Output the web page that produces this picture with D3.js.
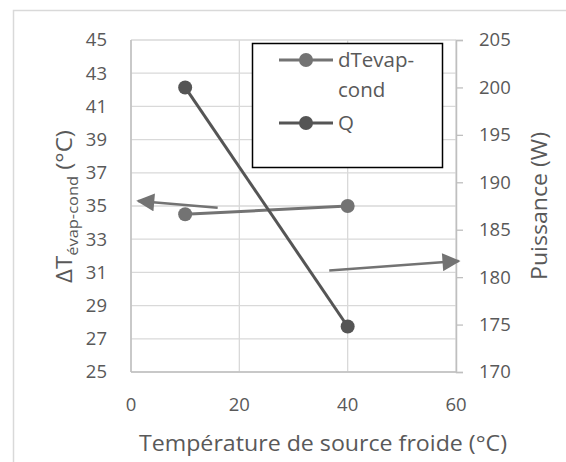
<!DOCTYPE html>
<html><head><meta charset="utf-8">
<script src="https://cdn.jsdelivr.net/npm/d3@7"></script>
<style>body{margin:0;background:#fff}svg{display:block}text{font-family:"Open Sans",sans-serif;fill:#595959}</style>
</head><body><svg id="c" width="566" height="462"></svg>
<script>
const xTicks=[0,20,40,60];
const leftTicks=[25,27,29,31,33,35,37,39,41,43,45];
const rightTicks=[170,175,180,185,190,195,200,205];
const tempX=[10,40];
const dTevap=[34.5,35];
const Q=[200,174.8];
const seriesNames=["dTevap-cond","Q"];
const colors=["#737373","#555555"];

const svg=d3.select("#c");
const L=131,R=456,T=40,B=372;
const x=d3.scaleLinear().domain([0,60]).range([L,R]);
const yL=d3.scaleLinear().domain([25,45]).range([B,T]);
const yR=d3.scaleLinear().domain([170,205]).range([B,T]);
const tickFs=18.5;

// outer border
svg.append("path").attr("d","M13.5,462V10.5H566").attr("fill","none").attr("stroke","#d9d9d9").attr("stroke-width",1.5);

// gridlines
svg.append("g").selectAll("line").data(leftTicks).join("line")
 .attr("x1",L).attr("x2",R).attr("y1",d=>yL(d)).attr("y2",d=>yL(d))
 .attr("stroke","#d9d9d9").attr("stroke-width",1.3);
svg.append("g").selectAll("line").data(xTicks).join("line")
 .attr("x1",d=>x(d)).attr("x2",d=>x(d)).attr("y1",T).attr("y2",B)
 .attr("stroke","#d9d9d9").attr("stroke-width",1.3);

// axes lines
const axCol="#bfbfbf";
svg.append("line").attr("x1",L).attr("x2",R).attr("y1",B).attr("y2",B).attr("stroke",axCol).attr("stroke-width",1.5);
svg.append("line").attr("x1",L).attr("x2",L).attr("y1",T).attr("y2",B).attr("stroke",axCol).attr("stroke-width",1.5);
// right axis
const gR=svg.append("g").attr("transform",`translate(${R},0)`)
 .call(d3.axisRight(yR).tickValues(rightTicks).tickSize(7).tickPadding(16));
gR.select(".domain").attr("stroke",axCol).attr("stroke-width",1.5);
gR.selectAll(".tick line").attr("stroke",axCol).attr("stroke-width",1.3);
gR.selectAll("text").attr("font-size",tickFs).attr("fill","#595959").attr("font-family","Open Sans");

// left tick labels
svg.append("g").selectAll("text").data(leftTicks).join("text")
 .attr("x",107).attr("y",d=>yL(d)).attr("dy","0.35em").attr("text-anchor","end")
 .attr("font-size",tickFs).text(d=>d);
// x tick labels
svg.append("g").selectAll("text").data(xTicks).join("text")
 .attr("x",d=>x(d)).attr("y",405).attr("dy","0.35em").attr("text-anchor","middle")
 .attr("font-size",tickFs).text(d=>d);

// axis titles
svg.append("text").attr("x",323).attr("y",451).attr("text-anchor","middle").attr("font-size",21.5)
 .attr("textLength",368).attr("lengthAdjust","spacingAndGlyphs").text("Température de source froide (°C)");
const lt=svg.append("text").attr("transform","translate(72,206.5) rotate(-90)").attr("text-anchor","middle").attr("font-size",22)
 .attr("textLength",153).attr("lengthAdjust","spacingAndGlyphs");
lt.append("tspan").text("ΔT");
lt.append("tspan").attr("font-size",15).attr("dy",6).text("évap-cond");
lt.append("tspan").attr("dy",-6).text(" (°C)");
svg.append("text").attr("transform","translate(547,206) rotate(-90)").attr("text-anchor","middle").attr("font-size",21.5)
 .attr("textLength",148).attr("lengthAdjust","spacingAndGlyphs").text("Puissance (W)");

// series
const line1=d3.line().x((d,i)=>x(tempX[i])).y(d=>yL(d));
const line2=d3.line().x((d,i)=>x(tempX[i])).y(d=>yR(d));
svg.append("path").attr("d",line1(dTevap)).attr("fill","none").attr("stroke",colors[0]).attr("stroke-width",3);
svg.append("g").selectAll("circle").data(dTevap).join("circle").attr("cx",(d,i)=>x(tempX[i])).attr("cy",d=>yL(d)).attr("r",7).attr("fill",colors[0]);
svg.append("path").attr("d",line2(Q)).attr("fill","none").attr("stroke",colors[1]).attr("stroke-width",3);
svg.append("g").selectAll("circle").data(Q).join("circle").attr("cx",(d,i)=>x(tempX[i])).attr("cy",d=>yR(d)).attr("r",7).attr("fill",colors[1]);

// annotation arrows
const defs=svg.append("defs");
defs.append("marker").attr("id","ah").attr("viewBox","0 0 10 10").attr("refX",9).attr("refY",5)
 .attr("markerWidth",22).attr("markerHeight",18).attr("markerUnits","userSpaceOnUse")
 .attr("orient","auto").append("path").attr("d","M0,0L10,5L0,10Z").attr("fill","#737373");
function arrow(x1,y1,x2,y2){
 svg.append("line").attr("x1",x1).attr("y1",y1).attr("x2",x2).attr("y2",y2)
  .attr("stroke","#737373").attr("stroke-width",2.5).attr("marker-end","url(#ah)");
}
arrow(x(16),yL(34.9),x(1.3),yL(35.3));
arrow(x(36.6),yR(180.7),x(60.5),yR(181.7));

// legend
const lg=svg.append("g");
lg.append("rect").attr("x",252.5).attr("y",43.5).attr("width",190).attr("height",124).attr("fill","#fff").attr("stroke","#000").attr("stroke-width",1.5);
const ly=[60,123];
seriesNames.forEach((n,i)=>{
 lg.append("line").attr("x1",279).attr("x2",333).attr("y1",ly[i]).attr("y2",ly[i]).attr("stroke",colors[i]).attr("stroke-width",3);
 lg.append("circle").attr("cx",306).attr("cy",ly[i]).attr("r",7).attr("fill",colors[i]);
});
const lfs=20.5;
lg.append("text").attr("x",338).attr("y",ly[0]).attr("dy","0.35em").attr("font-size",lfs).text("dTevap-");
lg.append("text").attr("x",338).attr("y",ly[0]+30).attr("dy","0.35em").attr("font-size",lfs).text("cond");
lg.append("text").attr("x",338).attr("y",ly[1]).attr("dy","0.35em").attr("font-size",lfs).text("Q");
</script></body></html>
